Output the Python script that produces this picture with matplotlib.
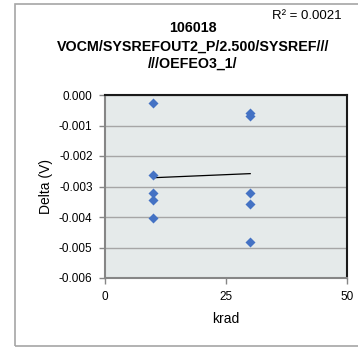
import numpy as np
import matplotlib
matplotlib.use("Agg")
import matplotlib.pyplot as plt
from matplotlib.patches import Rectangle

# Data
krad = [10, 10, 10, 10, 10, 30, 30, 30, 30, 30]
delta = [-0.00026, -0.00262, -0.00320, -0.00344, -0.00404,
         -0.00060, -0.00068, -0.00320, -0.00359, -0.00482]
title_lines = ["106018", "VOCM/SYSREFOUT2_P/2.500/SYSREF///", "///OEFEO3_1/"]
r2_text = "R² = 0.0021"
xticks = [0, 25, 50]
yticks = [0.000, -0.001, -0.002, -0.003, -0.004, -0.005, -0.006]

W, H = 358, 347
fig = plt.figure(figsize=(W / 100, H / 100), dpi=100)
fig.patch.set_facecolor("white")
plt.rcParams['font.family'] = ['Liberation Sans', 'DejaVu Sans']

# outer chart border
fig.add_artist(Rectangle((15 / W, 1 - 346 / H), 400 / W, (346 - 4) / H,
                         transform=fig.transFigure, fill=False,
                         edgecolor="#A6A6A6", linewidth=1.2))

ax = fig.add_axes([105 / W, 1 - 278 / H, (347 - 105) / W, (278 - 95) / H])
ax.set_facecolor("#E5EAEA")
ax.set_xlim(0, 50)
ax.set_ylim(-0.006, 0.0)
ax.set_xticks(xticks)
ax.set_yticks(yticks)
ax.set_yticklabels([f"{v:.3f}" for v in yticks])
ax.grid(axis="y", color="#A6A6A6", linewidth=1.0)
ax.set_axisbelow(True)

for s in ["top", "right"]:
    ax.spines[s].set_color("#1A1A1A")
    ax.spines[s].set_linewidth(1.5)
for s in ["left", "bottom"]:
    ax.spines[s].set_color("#868686")
    ax.spines[s].set_linewidth(1.5)

ax.tick_params(axis="both", labelsize=8.5, color="#868686", length=4,
               width=1, labelcolor="#000000")
ax.tick_params(axis="y", pad=5)
ax.tick_params(axis="x", pad=5)

ax.scatter(krad, delta, marker="D", s=26, color="#4472C4", zorder=3,
           linewidths=0)

coef = np.polyfit(krad, delta, 1)
xs = np.array([min(krad), max(krad)])
ax.plot(xs, np.polyval(coef, xs), color="black", linewidth=0.9, zorder=2)

ax.set_xlabel("krad", fontsize=10, labelpad=7)
ax.set_ylabel("Delta (V)", fontsize=10, labelpad=4)

for ty, line in zip([28, 47, 64], title_lines):
    fig.text(193 / W, 1 - ty / H, line, ha="center", va="center",
             fontsize=10.3, fontweight="bold")
fig.text(342 / W, 1 - 16 / H, r2_text, ha="right", va="center", fontsize=9.5)

fig.savefig("out.png", dpi=100)
